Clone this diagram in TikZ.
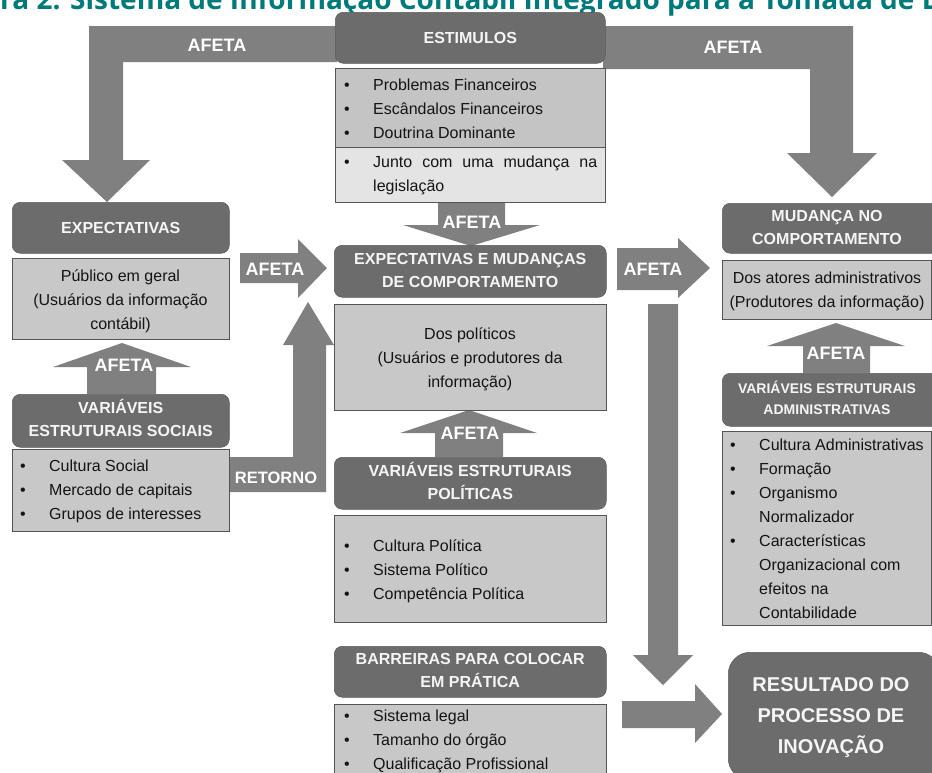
\documentclass[tikz,border=0pt]{standalone}
\usepackage{fontspec}
\setmainfont{Liberation Sans}
\newfontfamily\titlefont{Open Sans}
\usetikzlibrary{calc}

\definecolor{hdrgray}{RGB}{108,108,108}
\definecolor{arrgray}{RGB}{128,128,128}
\definecolor{bodygray}{RGB}{200,200,200}
\definecolor{stimgray}{RGB}{196,196,196}
\definecolor{stimlight}{RGB}{228,228,228}
\definecolor{edgegray}{RGB}{85,85,85}
\definecolor{titleteal}{RGB}{0,122,122}
\definecolor{hdrtext}{RGB}{245,245,245}
\definecolor{bodytext}{RGB}{20,20,20}

% bullet list: bullet column + text column, 24pt rows
\newcommand{\bulletlist}[1]{\begin{tabular}{@{}p{29pt}@{}l@{}}#1\end{tabular}}
% centred lines
\newcommand{\centerlines}[1]{\begin{tabular}{@{}c@{}}#1\end{tabular}}

\begin{document}
\begin{tikzpicture}[x=1pt,y=-1pt,
  hdrbox/.style={fill=hdrgray, draw=hdrgray!85!black, line width=0.5pt,
    rounded corners=8pt, inner sep=0pt, text=hdrtext,
    font=\bfseries\fontsize{16}{23}\selectfont, anchor=north west},
  hdrtxt/.style={text=hdrtext, inner sep=0pt, font=\bfseries\fontsize{16}{23}\selectfont},
  bodybox/.style={fill=bodygray, draw=edgegray, line width=0.8pt, inner sep=0pt, anchor=north west},
  blockarrow/.style={fill=arrgray},
  arrowlabel/.style={text=white, inner sep=0pt, font=\bfseries\fontsize{18}{20}\selectfont},
  bodytxt/.style={text=bodytext, inner sep=0pt, font=\fontsize{16}{24}\selectfont},
]
\useasboundingbox (0,0) rectangle (932,772);
\fill[white] (0,0) rectangle (932,772);

% heading line of the page
\node[anchor=base west, inner sep=0pt, text=titleteal,
  font=\titlefont\bfseries\fontsize{28}{30}\selectfont] (title) at (0,9)
  {ra 2: Sistema de Informação Contábil Integrado para a Tomada de D};

% ---------- block arrows ----------
% bent arrows from the stimuli
\path[blockarrow] (337,26) -- (89,26) -- (89,160) -- (62,160) -- (107,202)
  -- (150,160) -- (123,160) -- (123,62) -- (337,62) -- cycle;
\path[blockarrow] (603,26) -- (853,26) -- (853,153) -- (877,153) -- (832,197)
  -- (787,153) -- (810,153) -- (810,69) -- (603,69) -- cycle;
% stimuli -> centre
\path[blockarrow] (438,202) -- (505,202) -- (505,225) -- (540,225) -- (471,246)
  -- (403,225) -- (438,225) -- cycle;
% political variables -> centre
\path[blockarrow] (435,457) -- (435,433) -- (400,433) -- (469,410) -- (537,433)
  -- (503,433) -- (503,457) -- cycle;
% public -> centre
\path[blockarrow] (240,253) -- (298,253) -- (298,239) -- (327,268) -- (298,298)
  -- (298,283) -- (240,283) -- cycle;
% centre -> change in behaviour
\path[blockarrow] (617,248) -- (678,248) -- (678,238) -- (710,268) -- (678,298)
  -- (678,290) -- (617,290) -- cycle;
% social variables -> public
\path[blockarrow] (87,394) -- (87,367) -- (53,367) -- (122,343) -- (191,367)
  -- (156,367) -- (156,394) -- cycle;
% administrative variables -> change in behaviour
\path[blockarrow] (803,373) -- (803,346) -- (767,346) -- (836,323) -- (905,346)
  -- (870,346) -- (870,373) -- cycle;
% feedback arrow
\path[blockarrow] (229,457) -- (293,457) -- (293,345) -- (283,345) -- (308,302)
  -- (334,345) -- (326,345) -- (326,492) -- (229,492) -- cycle;
% long vertical arrow down to the result
\path[blockarrow] (648,304) -- (678,304) -- (678,655) -- (693,655) -- (663,685)
  -- (633,655) -- (648,655) -- cycle;
% barriers -> result
\path[blockarrow] (622,701) -- (695,701) -- (695,684) -- (722,714) -- (695,743)
  -- (695,728) -- (622,728) -- cycle;

% arrow labels
\node[arrowlabel] (afetaTL) at (217,45) {AFETA};
\node[arrowlabel] (afetaTR) at (733,47) {AFETA};
\node[arrowlabel] (afetaDn) at (472,222) {AFETA};
\node[arrowlabel] (afetaUpC) at (470,433) {AFETA};
\node[arrowlabel] (afetaL) at (275,269) {AFETA};
\node[arrowlabel] (afetaR) at (653,269) {AFETA};
\node[arrowlabel] (afetaUpL) at (124,365) {AFETA};
\node[arrowlabel] (afetaUpR) at (836,353) {AFETA};
\node[arrowlabel, font=\bfseries\fontsize{16.5}{18}\selectfont] (retorno) at (276,478) {RETORNO};

% ---------- stimuli ----------
\node[hdrbox, minimum width=270pt, minimum height=51pt] (estimhdr) at (335,12) {};
\node[hdrtxt] (estimtxt) at (estimhdr.center) {ESTIMULOS};
\node[bodybox, fill=stimgray, minimum width=270pt, minimum height=79pt] (estimA) at (335,68) {};
\node[bodybox, fill=stimlight, minimum width=270pt, minimum height=55pt] (estimB) at (335,147) {};
\node[bodytxt, anchor=west] (estimAtxt) at (344,110)
  {\bulletlist{• & Problemas Financeiros\\ • & Escândalos Financeiros\\ • & Doutrina Dominante}};
\node[bodytxt, anchor=west] (estimBtxt) at (344,175)
  {\bulletlist{• & \makebox[224pt][s]{Junto com uma mudança na}\\ & legislação}};

% ---------- centre column ----------
\node[hdrbox, minimum width=272pt, minimum height=52pt] (ctrhdr) at (334,245) {};
\node[hdrtxt] (ctrhdrtxt) at (ctrhdr.center) {\centerlines{EXPECTATIVAS E MUDANÇAS\\DE COMPORTAMENTO}};
\node[bodybox, minimum width=272pt, minimum height=106pt] (ctrbody) at (334,304) {};
\node[bodytxt] (ctrtxt) at (470,359) {\centerlines{Dos políticos\\(Usuários e produtores da\\informação)}};

\node[hdrbox, minimum width=272pt, minimum height=52pt] (polhdr) at (334,457) {};
\node[hdrtxt] (polhdrtxt) at (polhdr.center) {\centerlines{VARIÁVEIS ESTRUTURAIS\\POLÍTICAS}};
\node[bodybox, minimum width=272pt, minimum height=107pt] (polbody) at (334,515) {};
\node[bodytxt, anchor=west] (poltxt) at (344,571)
  {\bulletlist{• & Cultura Política\\ • & Sistema Político\\ • & Competência Política}};

\node[hdrbox, minimum width=272pt, minimum height=51pt] (barhdr) at (334,646) {};
\node[hdrtxt] (barhdrtxt) at (barhdr.center) {\centerlines{BARREIRAS PARA COLOCAR\\EM PRÁTICA}};
\node[bodybox, minimum width=272pt, minimum height=80pt] (barbody) at (334,704) {};
\node[bodytxt, anchor=west] (bartxt) at (344,741)
  {\bulletlist{• & Sistema legal\\ • & Tamanho do órgão\\ • & Qualificação Profissional}};

% ---------- right column ----------
\node[hdrbox, minimum width=222pt, minimum height=50pt] (mudhdr) at (722,203) {};
\node[hdrtxt] (mudhdrtxt) at (827,228) {\centerlines{MUDANÇA NO\\COMPORTAMENTO}};
\node[bodybox, minimum width=209pt, minimum height=59pt] (mudbody) at (722,260) {};
\node[bodytxt] (mudtxt) at (827,291) {\centerlines{Dos atores administrativos\\(Produtores da informação)}};

\node[hdrbox, minimum width=222pt, minimum height=53pt] (admhdr) at (722,373) {};
\node[hdrtxt, font=\bfseries\fontsize{14}{21}\selectfont] (admhdrtxt) at (827,399.5)
  {\centerlines{VARIÁVEIS ESTRUTURAIS\\ADMINISTRATIVAS}};
\node[bodybox, minimum width=209pt, minimum height=194pt] (admbody) at (722,431) {};
\node[bodytxt, anchor=west] (admtxt) at (730,530)
  {\bulletlist{• & Cultura Administrativas\\ • & Formação\\ • & Organismo\\ & Normalizador\\
   • & Características\\ & Organizacional com\\ & efeitos na\\ & Contabilidade}};

\node[hdrbox, rounded corners=22pt, minimum width=212pt, minimum height=128pt] (result) at (728,652) {};
\node[hdrtxt, font=\bfseries\fontsize{20}{31}\selectfont] (resulttxt) at (831,716)
  {\centerlines{RESULTADO DO\\PROCESSO DE\\INOVAÇÃO}};

% ---------- left column ----------
\node[hdrbox, minimum width=217pt, minimum height=51pt] (exphdr) at (12,202) {};
\node[hdrtxt] (exphdrtxt) at (exphdr.center) {EXPECTATIVAS};
\node[bodybox, minimum width=217pt, minimum height=81pt] (pubbody) at (12,258) {};
\node[bodytxt] (pubtxt) at (120.5,301) {\centerlines{Público em geral\\(Usuários da informação\\contábil)}};

\node[hdrbox, minimum width=217pt, minimum height=53pt] (sochdr) at (12,394) {};
\node[hdrtxt] (sochdrtxt) at (sochdr.center) {\centerlines{VARIÁVEIS\\ESTRUTURAIS SOCIAIS}};
\node[bodybox, minimum width=217pt, minimum height=82pt] (socbody) at (12,449) {};
\node[bodytxt, anchor=west] (soctxt) at (20,491)
  {\bulletlist{• & Cultura Social\\ • & Mercado de capitais\\ • & Grupos de interesses}};

\end{tikzpicture}
\end{document}
